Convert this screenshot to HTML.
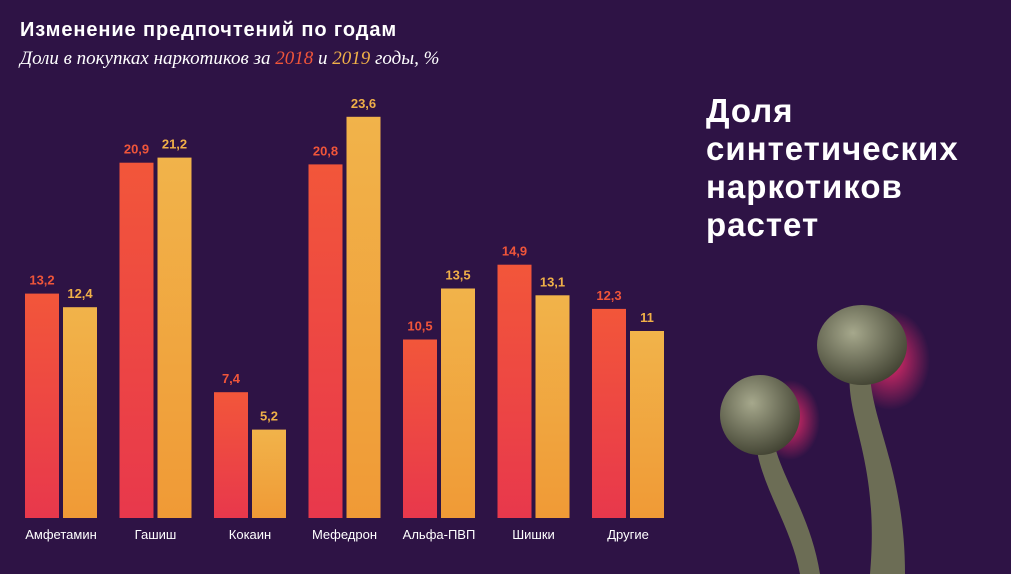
<!DOCTYPE html>
<html><head><meta charset="utf-8">
<style>
body{margin:0;width:1011px;height:574px;overflow:hidden;background:#2e1345;font-family:"Liberation Sans",sans-serif;}
#wrap{position:relative;width:1011px;height:574px;}
.t{position:absolute;left:20px;top:19px;color:#fff;font-weight:bold;font-size:20px;letter-spacing:0.9px;}
.s{position:absolute;left:20px;top:48px;color:#fff;font-style:italic;font-family:"Liberation Serif",serif;font-size:19px;}
.h{position:absolute;left:706px;top:92px;color:#fff;font-weight:bold;font-size:33px;line-height:38px;letter-spacing:1px;}
</style></head><body>
<div id="wrap">
<div class="t">Изменение предпочтений по годам</div>
<div class="s">Доли в покупках наркотиков за <span style="color:#f0553a">2018</span> и <span style="color:#f0b048">2019</span> годы, %</div>
<div class="h">Доля<br>синтетических<br>наркотиков<br>растет</div>
<svg id="chart" width="1011" height="574" style="position:absolute;left:0;top:0">
<defs>
<linearGradient id="g18" x1="0" y1="0" x2="0" y2="1"><stop offset="0" stop-color="#f2563a"/><stop offset="1" stop-color="#e8384c"/></linearGradient>
<linearGradient id="g19" x1="0" y1="0" x2="0" y2="1"><stop offset="0" stop-color="#f1b34a"/><stop offset="1" stop-color="#f09a36"/></linearGradient>
<radialGradient id="cap" cx="0.4" cy="0.35" r="0.7"><stop offset="0" stop-color="#a6a88c"/><stop offset="1" stop-color="#3f4030"/></radialGradient>
<radialGradient id="glow" cx="0.5" cy="0.5" r="0.5"><stop offset="0" stop-color="#ff2f6e" stop-opacity="0.9"/><stop offset="1" stop-color="#ff2f6e" stop-opacity="0"/></radialGradient>
</defs>
<g>
<ellipse cx="890" cy="360" rx="40" ry="50" fill="url(#glow)"/>
<ellipse cx="790" cy="420" rx="30" ry="40" fill="url(#glow)"/>
<path d="M850 370 C845 420 880 460 870 574 L905 574 C905 470 870 420 870 370 Z" fill="#6c6d55"/>
<path d="M755 430 C755 480 790 520 800 574 L820 574 C810 510 775 470 772 430 Z" fill="#6c6d55"/>
<ellipse cx="862" cy="345" rx="45" ry="40" fill="url(#cap)"/>
<ellipse cx="760" cy="415" rx="40" ry="40" fill="url(#cap)"/>
</g>
<g id="bars"></g>
</svg>
</div>
<script>
const categories=["Амфетамин","Гашиш","Кокаин","Мефедрон","Альфа-ПВП","Шишки","Другие"];
const values2018=[13.2,20.9,7.4,20.8,10.5,14.9,12.3];
const values2019=[12.4,21.2,5.2,23.6,13.5,13.1,11];
const base=518, unit=17.0, x0=25, step=94.5, bw=34, gap=38;
const y=v=>base-v*unit;
const x=i=>x0+i*step;
const fmt=v=>String(v).replace('.',',');
const g=document.getElementById('bars');
const NS='http://www.w3.org/2000/svg';
function rect(xx,v,fill,label){
  const r=document.createElementNS(NS,'rect');
  r.setAttribute('x',xx);r.setAttribute('y',y(v));r.setAttribute('width',bw);r.setAttribute('height',base-y(v));r.setAttribute('fill',fill);
  
  
  g.appendChild(r);
}
function txt(xx,yy,s,col,size,label){
  const t=document.createElementNS(NS,'text');
  t.setAttribute('x',xx);t.setAttribute('y',yy);t.setAttribute('text-anchor','middle');t.setAttribute('fill',col);
  t.setAttribute('font-size',size);t.setAttribute('font-family','Liberation Sans, sans-serif');
  if(col!=='#fff')t.setAttribute('font-weight','bold');
  t.textContent=s;
  
  
  g.appendChild(t);
}
categories.forEach((c,i)=>{
  rect(x(i),values2018[i],'url(#g18)','bar-2018');
  rect(x(i)+gap,values2019[i],'url(#g19)','bar-2019');
  txt(x(i)+bw/2,y(values2018[i])-9,fmt(values2018[i]),'#f0553a',13,'value-label-2018');
  txt(x(i)+gap+bw/2,y(values2019[i])-9,fmt(values2019[i]),'#f0b048',13,'value-label-2019');
  txt(x(i)+(gap+bw)/2,539,c,'#fff',13,'category-label');
});
</script>
</body></html>
